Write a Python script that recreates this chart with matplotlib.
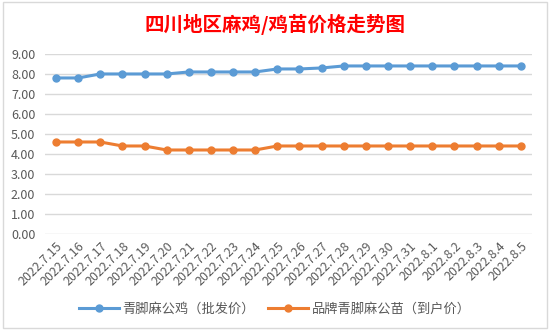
import matplotlib
matplotlib.use("Agg")
import matplotlib.pyplot as plt
from matplotlib.patches import Rectangle

plt.rcParams['font.family'] = ['Noto Sans CJK SC', 'DejaVu Sans']

dates = ["2022.7.15", "2022.7.16", "2022.7.17", "2022.7.18", "2022.7.19", "2022.7.20",
         "2022.7.21", "2022.7.22", "2022.7.23", "2022.7.24", "2022.7.25", "2022.7.26",
         "2022.7.27", "2022.7.28", "2022.7.29", "2022.7.30", "2022.7.31", "2022.8.1",
         "2022.8.2", "2022.8.3", "2022.8.4", "2022.8.5"]
chicken = [7.8, 7.8, 8.0, 8.0, 8.0, 8.0, 8.1, 8.1, 8.1, 8.1, 8.25, 8.25,
           8.3, 8.4, 8.4, 8.4, 8.4, 8.4, 8.4, 8.4, 8.4, 8.4]
chick = [4.6, 4.6, 4.6, 4.4, 4.4, 4.2, 4.2, 4.2, 4.2, 4.2, 4.4, 4.4,
         4.4, 4.4, 4.4, 4.4, 4.4, 4.4, 4.4, 4.4, 4.4, 4.4]
series_names = ["青脚麻公鸡（批发价）", "品牌青脚麻公苗（到户价）"]
yticks = [0, 1, 2, 3, 4, 5, 6, 7, 8, 9]

fig = plt.figure(figsize=(5.5, 3.31), dpi=100)
ax = fig.add_axes([0.0818, 0.293, 0.8852, 0.544])

x = list(range(len(dates)))
ax.plot(x, chicken, "-o", color="#5B9BD5", lw=2.2, ms=5, label=series_names[0], zorder=3)
ax.plot(x, chick, "-o", color="#ED7D31", lw=2.2, ms=5, label=series_names[1], zorder=3)

ax.set_xlim(-0.5, len(dates) - 0.5)
ax.set_ylim(0, 9)
ax.set_yticks(yticks)
ax.set_yticklabels([f"{v:.2f}" for v in yticks])
ax.set_xticks(x)
ax.set_xticklabels(dates, rotation=45, ha="right", rotation_mode="anchor")
ax.tick_params(length=0, colors="#595959", labelsize=9)
ax.tick_params(axis="x", pad=4)
ax.tick_params(axis="y", pad=7)
ax.grid(axis="y", color="#D9D9D9", lw=1)
ax.set_axisbelow(True)
for s in ax.spines.values():
    s.set_visible(False)

fig.text(0.5, 0.927, "四川地区麻鸡/鸡苗价格走势图", ha="center", va="center",
         color="#FF0000", fontsize=14, fontweight="bold")
fig.legend(loc="center", bbox_to_anchor=(0.5, 0.067), ncol=2, frameon=False,
           fontsize=9.5, labelcolor="#595959", handlelength=3, columnspacing=1.0,
           handletextpad=0.3)
fig.patches.append(Rectangle((3 / 550, 3 / 331), 544 / 550, 326 / 331,
                             transform=fig.transFigure, fill=False,
                             edgecolor="#D9D9D9", lw=1))

fig.savefig("out.png", dpi=100, facecolor="white")
